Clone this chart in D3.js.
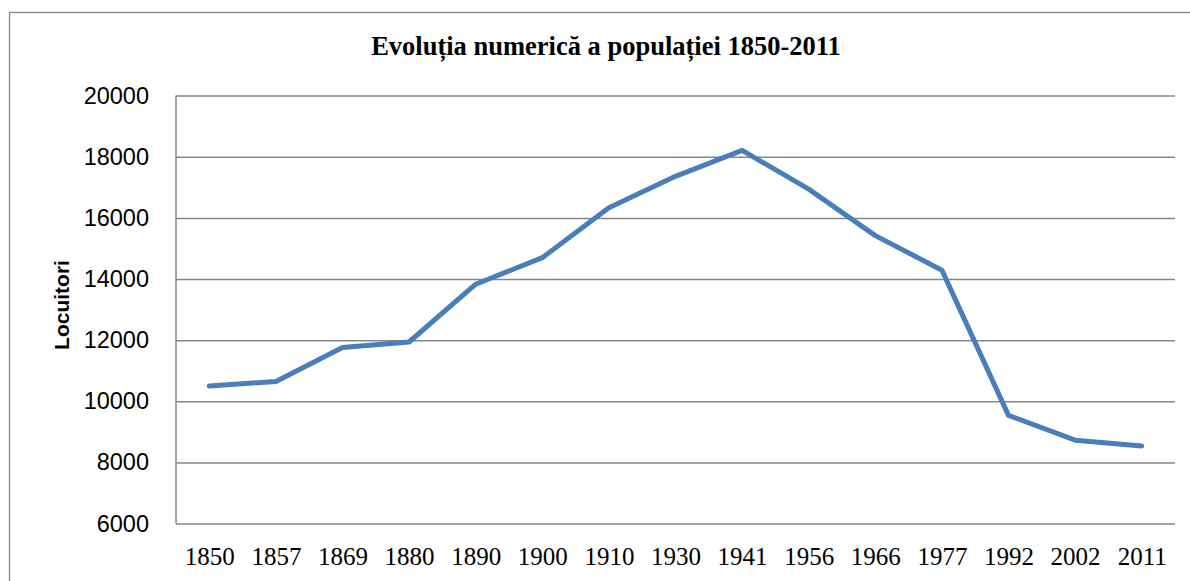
<!DOCTYPE html>
<html>
<head>
<meta charset="utf-8">
<script src="https://cdn.jsdelivr.net/npm/d3@7"></script>
<style>
  body { margin: 0; background: #fff; }
  svg { display: block; }
</style>
</head>
<body>
<svg id="chart"></svg>
<script>
'use strict';

var WIDTH = 1190;
var HEIGHT = 581;

// data
var years = ["1850", "1857", "1869", "1880", "1890", "1900", "1910", "1930",
             "1941", "1956", "1966", "1977", "1992", "2002", "2011"];
var locuitori = [10500, 10650, 11760, 11940, 13830, 14700, 16330, 17360,
                 18210, 16940, 15420, 14290, 9540, 8730, 8540];
var yTicks = [6000, 8000, 10000, 12000, 14000, 16000, 18000, 20000];
var title = "Evoluția numerică a populației 1850-2011";
var yTitle = "Locuitori";

var LEFT = 176, RIGHT = 1175, TOP = 95.6, BOTTOM = 523.6;

var svg = d3.select("#chart").attr("width", WIDTH).attr("height", HEIGHT);

// outer chart frame
svg.append("rect")
  .attr("x", 9.5).attr("y", 12.5)
  .attr("width", 1300).attr("height", 700)
  .attr("fill", "none")
  .attr("stroke", "#888")
  .attr("stroke-width", 1.3);

var x = d3.scalePoint()
  .domain(years)
  .range([LEFT, RIGHT])
  .padding(0.5);

var y = d3.scaleLinear()
  .domain([6000, 20000])
  .range([BOTTOM, TOP]);

// horizontal grid + y labels
var gy = svg.append("g")
  .attr("transform", "translate(" + LEFT + ",0)")
  .call(d3.axisLeft(y)
    .tickValues(yTicks)
    .tickSize(-(RIGHT - LEFT))
    .tickPadding(27)
    .tickFormat(d3.format("d")));
gy.select(".domain").remove();
gy.selectAll(".tick line")
  .attr("stroke", "#868686")
  .attr("stroke-width", 1.5);
gy.selectAll(".tick text")
  .attr("font-family", "'Liberation Sans', Arial, sans-serif")
  .attr("font-size", 23.5)
  .attr("fill", "#000");

// vertical axis line
svg.append("line")
  .attr("x1", LEFT).attr("x2", LEFT)
  .attr("y1", TOP).attr("y2", BOTTOM)
  .attr("stroke", "#868686")
  .attr("stroke-width", 1.5);

// x labels
var gx = svg.append("g")
  .attr("transform", "translate(0," + BOTTOM + ")")
  .call(d3.axisBottom(x).tickSize(0).tickPadding(23.5));
gx.select(".domain").remove();
gx.selectAll(".tick text")
  .attr("font-family", "'Liberation Serif', 'Times New Roman', serif")
  .attr("font-size", 25)
  .attr("fill", "#000");

// the series
var line = d3.line()
  .x(function(d, i) { return x(years[i]); })
  .y(function(d) { return y(d); });

svg.append("path")
  .datum(locuitori)
  .attr("d", line)
  .attr("fill", "none")
  .attr("stroke", "#4a7ebb")
  .attr("stroke-width", 5)
  .attr("stroke-linejoin", "round")
  .attr("stroke-linecap", "round");

// titles
svg.append("text")
  .attr("x", 606).attr("y", 55)
  .attr("text-anchor", "middle")
  .attr("font-family", "'Liberation Serif', 'Times New Roman', serif")
  .attr("font-weight", "bold")
  .attr("font-size", 26.5)
  .text(title);

svg.append("text")
  .attr("transform", "translate(68.5,305) rotate(-90)")
  .attr("text-anchor", "middle")
  .attr("font-family", "'Liberation Sans', Arial, sans-serif")
  .attr("font-weight", "bold")
  .attr("font-size", 21)
  .text(yTitle);
</script>
</body>
</html>
